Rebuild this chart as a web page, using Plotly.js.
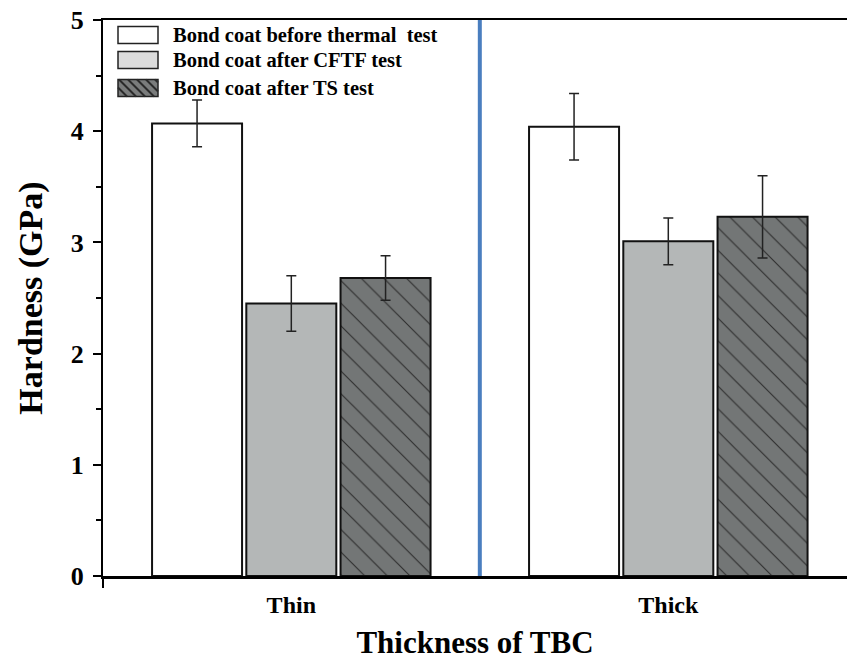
<!DOCTYPE html>
<html>
<head>
<meta charset="utf-8">
<script src="https://cdn.plot.ly/plotly-3.0.1.min.js"></script>
<style>html,body{margin:0;padding:0;background:#fff;}#chart{width:847px;height:663px;}</style>
</head>
<body>
<div id="chart"></div>
<script>
// ---- data ----
const categories = ['Thin', 'Thick'];
const seriesNames = ['Bond coat before thermal  test', 'Bond coat after CFTF test', 'Bond coat after TS test'];
const beforeVals = [4.07, 4.04];
const beforeErr = [0.21, 0.30];
const cftfVals = [2.45, 3.01];
const cftfErr = [0.25, 0.21];
const tsVals = [2.68, 3.23];
const tsErr = [0.20, 0.37];
const yTicks = [0, 1, 2, 3, 4, 5];

// ---- style ----
const FONT = 'Liberation Serif, Times New Roman, serif';
const W = 847, H = 663, ML = 103, MR = 0, MT = 20, MB = 87;
const PW = W - ML - MR, PH = H - MT - MB;
const px = x => (x - ML) / PW;        // pixel -> paper x
const py = y => (H - MB - y) / PH;    // pixel -> paper y

function errSpec(arr) {
  return {type: 'data', array: arr, visible: true, color: '#222', thickness: 1.5, width: 5};
}

const traces = [
  {type: 'bar', name: seriesNames[0], x: categories, y: beforeVals, error_y: errSpec(beforeErr),
   marker: {color: '#ffffff', line: {color: '#111', width: 2}}},
  {type: 'bar', name: seriesNames[1], x: categories, y: cftfVals, error_y: errSpec(cftfErr),
   marker: {color: '#b4b7b7', line: {color: '#111', width: 2}}},
  {type: 'bar', name: seriesNames[2], x: categories, y: tsVals, error_y: errSpec(tsErr),
   marker: {color: '#737676', line: {color: '#111', width: 2},
            pattern: {shape: '\\', bgcolor: '#737676', fgcolor: '#2e2e2e', size: 16, solidity: 0.07}}}
];

// custom legend (large swatches like the reference)
const legendFills = ['#ffffff', '#dcdcdc', '#7a7c7c'];
const legendRows = [35, 60, 88];
const shapes = [];
const annotations = [];
const sx0 = 118, sx1 = 158, sh = 17;
legendRows.forEach((cy, i) => {
  const y0 = cy - sh / 2, y1 = cy + sh / 2;
  shapes.push({type: 'rect', xref: 'paper', yref: 'paper', x0: px(sx0), x1: px(sx1), y0: py(y1), y1: py(y0),
    fillcolor: legendFills[i], line: {color: '#222', width: 1.5}, layer: 'above'});
  if (i === 2) {
    // hatch lines "\" inside swatch
    const step = 9;
    for (let k = -sh; k < (sx1 - sx0); k += step) {
      let ax = sx0 + k, ay = y0, bx = sx0 + k + sh, by = y1;
      if (ax < sx0) { ay = y0 + (sx0 - ax); ax = sx0; }
      if (bx > sx1) { by = y1 - (bx - sx1); bx = sx1; }
      if (bx <= ax) continue;
      shapes.push({type: 'line', xref: 'paper', yref: 'paper', x0: px(ax), y0: py(ay), x1: px(bx), y1: py(by),
        line: {color: '#2a2a2a', width: 2}, layer: 'above'});
    }
  }
  annotations.push({xref: 'paper', yref: 'paper', x: px(171), y: py(cy), xanchor: 'left', yanchor: 'middle',
    text: seriesNames[i], showarrow: false, font: {family: FONT, size: 20.5, color: '#000', weight: 'bold'}});
});

// blue vertical separator between groups
shapes.push({type: 'line', xref: 'x', yref: 'paper', x0: 0.5, x1: 0.5, y0: 0, y1: 1,
  line: {color: '#4a7ebf', width: 4}, layer: 'below'});
// y axis extension below zero
shapes.push({type: 'line', xref: 'paper', yref: 'paper', x0: 0, x1: 0, y0: 0, y1: py(588),
  line: {color: '#000', width: 2}});

const layout = {
  width: W, height: H,
  margin: {l: ML, r: MR, t: MT, b: MB, pad: 0},
  paper_bgcolor: '#fff', plot_bgcolor: '#fff',
  showlegend: false,
  barmode: 'group', bargap: 0.25, bargroupgap: 0.045,
  font: {family: FONT, color: '#000'},
  xaxis: {
    range: [-0.4995, 1.474], showgrid: false, zeroline: false,
    showline: true, linecolor: '#000', linewidth: 2.5, mirror: true,
    ticks: '', tickfont: {family: FONT, size: 24, weight: 'bold'},
    ticklabelstandoff: 6,
    title: {text: 'Thickness of TBC', font: {family: FONT, size: 31, weight: 'bold'}, standoff: 14}
  },
  yaxis: {
    range: [0, 5], showgrid: false, zeroline: false,
    showline: true, linecolor: '#000', linewidth: 2,
    tickmode: 'array', tickvals: yTicks, ticktext: yTicks.map(String),
    ticks: 'outside', ticklen: 8, tickwidth: 2, tickcolor: '#000',
    minor: {dtick: 0.5, ticks: 'outside', ticklen: 5, tickwidth: 2, tickcolor: '#000'},
    tickfont: {family: FONT, size: 26, weight: 'bold'},
    ticklabelstandoff: 4,
    title: {text: 'Hardness (GPa)', font: {family: FONT, size: 34, weight: 'bold'}, standoff: 18}
  },
  shapes: shapes,
  annotations: annotations
};

Plotly.newPlot('chart', traces, layout, {displayModeBar: false, staticPlot: true});
</script>
</body>
</html>
